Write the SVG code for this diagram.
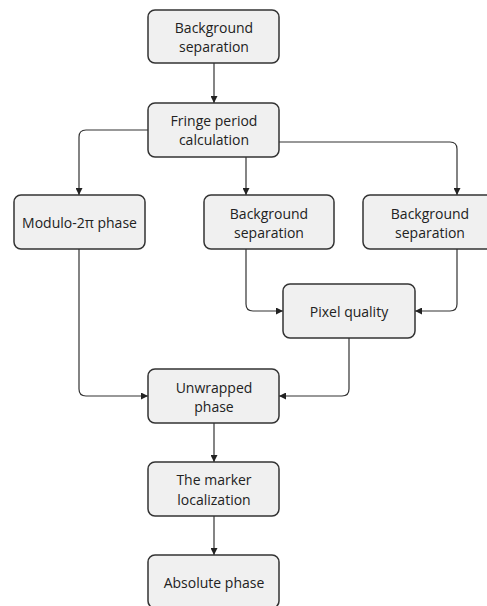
<svg xmlns="http://www.w3.org/2000/svg" width="487" height="606" viewBox="0 0 487 606">
<style>
.box{fill:#f0f0f0;stroke:#333;stroke-width:1.5}
.t{font-family:"Open Sans","Liberation Sans",sans-serif;font-size:14px;fill:#222;text-anchor:middle;dominant-baseline:central}
.c{fill:none;stroke:#333;stroke-width:1.2}
</style>
<defs>
<marker id="a" viewBox="0 0 8 8" refX="8" refY="4" markerWidth="7" markerHeight="7" markerUnits="userSpaceOnUse" orient="auto">
<path d="M0,0 L8,4 L0,8 z" fill="#222"/>
</marker>
</defs>
<rect width="487" height="606" fill="#fff"/>
<g id="connectors">
<path class="c" marker-end="url(#a)" d="M214,63 V103"/>
<path class="c" marker-end="url(#a)" d="M148,130 H86 Q79,130 79,137 V195"/>
<path class="c" marker-end="url(#a)" d="M246,157 V195"/>
<path class="c" marker-end="url(#a)" d="M279,142 H450 Q457,142 457,149 V195"/>
<path class="c" marker-end="url(#a)" d="M246,249 V304 Q246,311 253,311 H283"/>
<path class="c" marker-end="url(#a)" d="M457,249 V304 Q457,311 450,311 H415"/>
<path class="c" marker-end="url(#a)" d="M79,249 V389 Q79,396 86,396 H148"/>
<path class="c" marker-end="url(#a)" d="M349,338 V389 Q349,396 342,396 H279"/>
<path class="c" marker-end="url(#a)" d="M214,423 V462"/>
<path class="c" marker-end="url(#a)" d="M214,516 V555"/>
</g>
<g id="n1"><rect class="box" x="148" y="10" width="131" height="53" rx="7"/><text class="t" x="214" y="27">Background</text><text class="t" x="214" y="46">separation</text></g>
<g id="n2"><rect class="box" x="148" y="103" width="131" height="54" rx="7"/><text class="t" x="214" y="120">Fringe period</text><text class="t" x="214" y="139">calculation</text></g>
<g id="n3"><rect class="box" x="14" y="195" width="131" height="54" rx="7"/><text class="t" x="79.5" y="222">Modulo-2π phase</text></g>
<g id="n4"><rect class="box" x="204" y="195" width="130" height="54" rx="7"/><text class="t" x="269" y="213">Background</text><text class="t" x="269" y="232">separation</text></g>
<g id="n5"><rect class="box" x="363" y="195" width="133" height="54" rx="7"/><text class="t" x="430" y="213">Background</text><text class="t" x="430" y="232">separation</text></g>
<g id="n6"><rect class="box" x="283" y="284" width="132" height="54" rx="7"/><text class="t" x="349" y="311">Pixel quality</text></g>
<g id="n7"><rect class="box" x="148" y="369" width="131" height="54" rx="7"/><text class="t" x="214" y="387">Unwrapped</text><text class="t" x="214" y="406">phase</text></g>
<g id="n8"><rect class="box" x="148" y="462" width="131" height="54" rx="7"/><text class="t" x="214" y="479">The marker</text><text class="t" x="214" y="499">localization</text></g>
<g id="n9"><rect class="box" x="148" y="555" width="131" height="53" rx="7"/><text class="t" x="214" y="582">Absolute phase</text></g>
</svg>
